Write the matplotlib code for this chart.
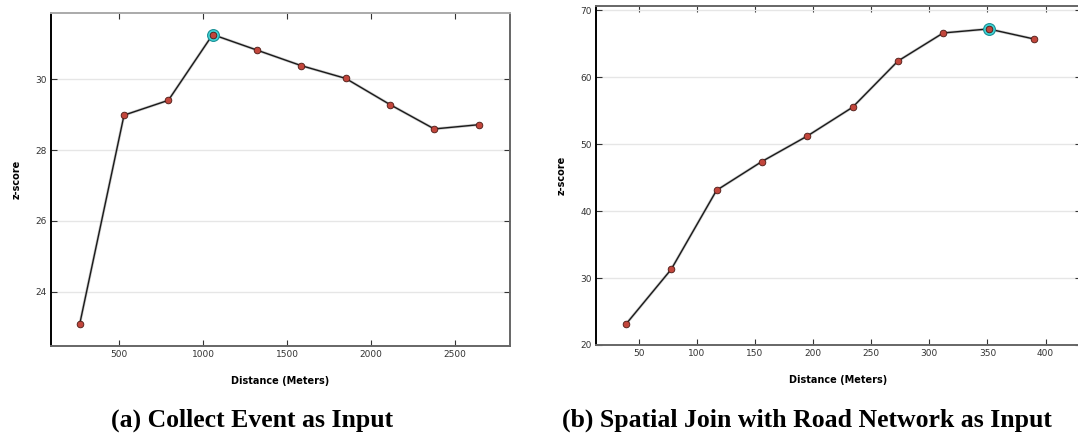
import matplotlib.pyplot as plt
import numpy as np

# Panel (a): collect events as input
dist_a = [264, 528, 792, 1056, 1320, 1584, 1848, 2112, 2376, 2640]
z_a = [23.08, 28.99, 29.41, 31.27, 30.83, 30.39, 30.03, 29.29, 28.60, 28.72]
xticks_a = [500, 1000, 1500, 2000, 2500]
yticks_a = [24, 26, 28, 30]

# Panel (b): spatial join with road network as input
dist_b = [39, 78, 117, 156, 195, 234, 273, 312, 351, 390]
z_b = [23.1, 31.3, 43.1, 47.4, 51.2, 55.5, 62.4, 66.6, 67.2, 65.7]
xticks_b = [50, 100, 150, 200, 250, 300, 350, 400]
yticks_b = [20, 30, 40, 50, 60, 70]

RED = '#c2463c'
CYAN = '#3fd6d8'
GRID = '#e6e6e6'

fig = plt.figure(figsize=(10.78, 4.37), dpi=100)
ax1 = fig.add_axes([51 / 1078, 1 - 346 / 437, 459 / 1078, 333 / 437])
ax2 = fig.add_axes([596 / 1078, 1 - 345 / 437, 485 / 1078, 339.5 / 437])


def draw(ax, x, y, xlim, ylim, xticks, yticks):
    ax.plot(x, y, color='#999999', lw=2.0, alpha=0.5, zorder=2)
    ax.plot(x, y, color='#1a1a1a', lw=1.0, zorder=3)
    k = int(np.argmax(y))
    ax.plot(x[k], y[k], 'o', ms=8.5, mfc=CYAN, mec='#1a8f95', mew=0.8, zorder=4)
    ax.plot(x, y, 'o', ms=4.8, mfc=RED, mec='#4a1a15', mew=0.6, zorder=5)
    ax.set_xlim(*xlim)
    ax.set_ylim(*ylim)
    ax.set_xticks(xticks)
    ax.set_yticks(yticks)
    ax.grid(True, axis='y', color=GRID, lw=1)
    ax.set_axisbelow(True)
    ax.tick_params(direction='in', length=4, width=0.8, top=True, right=True,
                   labelsize=6.5, colors='#333333', pad=3)
    for side in ['top', 'right', 'bottom']:
        ax.spines[side].set_color('#666666')
        ax.spines[side].set_linewidth(1.4)
    ax.spines['left'].set_color('black')
    ax.spines['left'].set_linewidth(1.4)
    ax.set_xlabel('Distance (Meters)', fontsize=7, fontweight='bold', labelpad=12)
    ax.set_ylabel('z-score', fontsize=7, fontweight='bold', labelpad=10)


draw(ax1, dist_a, z_a, (93, 2827), (22.46, 31.88), xticks_a, yticks_a)
draw(ax2, dist_b, z_b, (13.3, 430.5), (20, 70.7), xticks_b, yticks_b)
ax1.spines['top'].set_color('#aaaaaa')

fig.text(252 / 1078, 1 - 420 / 437, '(a) Collect Event as Input',
         ha='center', va='center', fontsize=18.5, fontweight='bold',
         family='Liberation Serif')
fig.text(807 / 1078, 1 - 420 / 437, '(b) Spatial Join with Road Network as Input',
         ha='center', va='center', fontsize=18.5, fontweight='bold',
         family='Liberation Serif')

fig.savefig('out.png', dpi=100, facecolor='white')
plt.close(fig)
